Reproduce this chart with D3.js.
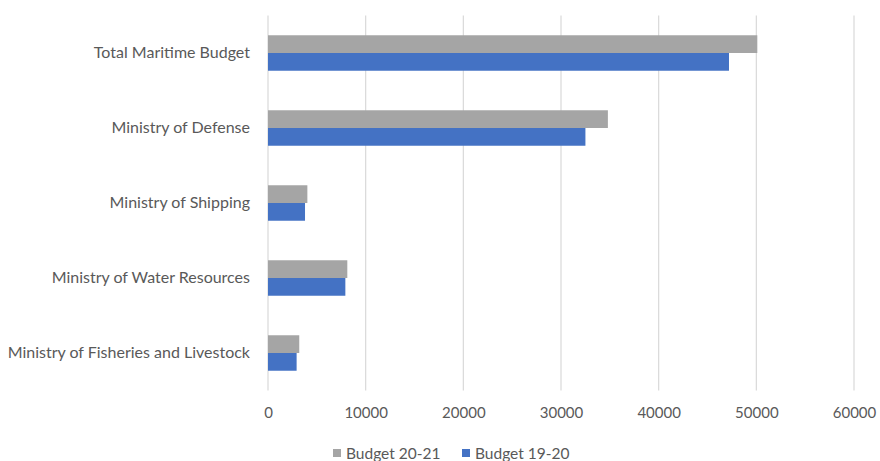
<!DOCTYPE html>
<html>
<head>
<meta charset="utf-8">
<script src="https://cdn.jsdelivr.net/npm/d3@7"></script>
<style>
  html, body { margin: 0; padding: 0; background: #fff; }
  svg { display: block; }
  text { font-family: Lato, "Open Sans", sans-serif; fill: #595959; }
</style>
</head>
<body>
<svg id="chart" width="880" height="461"></svg>
<script>
// Maritime budget allocations by ministry
const categories = [
  "Total Maritime Budget",
  "Ministry of Defense",
  "Ministry of Shipping",
  "Ministry of Water Resources",
  "Ministry of Fisheries and Livestock"
];
const seriesNames = ["Budget 20-21", "Budget 19-20"];
const budget2021 = [50100, 34800, 4030, 8120, 3200];
const budget1920 = [47200, 32500, 3790, 7920, 2930];
const xTicks = [0, 10000, 20000, 30000, 40000, 50000, 60000];
const colors = ["#A5A5A5", "#4472C4"];

const svg = d3.select("#chart");
const margin = { top: 15.5, left: 268 };
const plotH = 375;

const x = d3.scaleLinear().domain([0, 60000]).range([margin.left, 854]);
const y = d3.scaleBand().domain(categories).range([margin.top, margin.top + plotH])
  .paddingInner(0.527).paddingOuter(0.2635);
const ySub = d3.scaleBand().domain(seriesNames).range([0, y.bandwidth()]);

// vertical gridlines
svg.append("g").selectAll("line").data(xTicks).join("line")
  .attr("x1", d => x(d)).attr("x2", d => x(d))
  .attr("y1", margin.top).attr("y2", margin.top + plotH)
  .attr("stroke", "#D9D9D9").attr("stroke-width", 1.2);

// bars
const series = [budget2021, budget1920];
series.forEach((vals, si) => {
  svg.append("g").selectAll("rect").data(vals).join("rect")
    .attr("x", x(0))
    .attr("y", (d, i) => y(categories[i]) + ySub(seriesNames[si]))
    .attr("width", d => x(d) - x(0))
    .attr("height", ySub.bandwidth())
    .attr("fill", colors[si]);
});

// category labels
const yAxis = d3.axisLeft(y).tickSize(0).tickPadding(18);
const gy = svg.append("g").attr("transform", `translate(${margin.left},0)`).call(yAxis);
gy.select(".domain").remove();
gy.selectAll("text").style("font-size", "16px").style("fill", "#595959");

// x tick labels
const xAxis = d3.axisBottom(x).tickValues(xTicks).tickSize(0).tickPadding(17).tickFormat(d3.format("d"));
const gx = svg.append("g").attr("transform", `translate(0,${margin.top + plotH})`).call(xAxis);
gx.select(".domain").remove();
gx.selectAll("text").style("font-size", "15px").style("fill", "#595959");

// legend
const legendX = [333, 462];
const lg = svg.append("g");
seriesNames.forEach((name, i) => {
  lg.append("rect").attr("x", legendX[i]).attr("y", 449).attr("width", 8).attr("height", 8).attr("fill", colors[i]);
  lg.append("text").attr("x", legendX[i] + 13).attr("y", 458.5)
    .style("font-size", "15.5px").text(name);
});
</script>
</body>
</html>
